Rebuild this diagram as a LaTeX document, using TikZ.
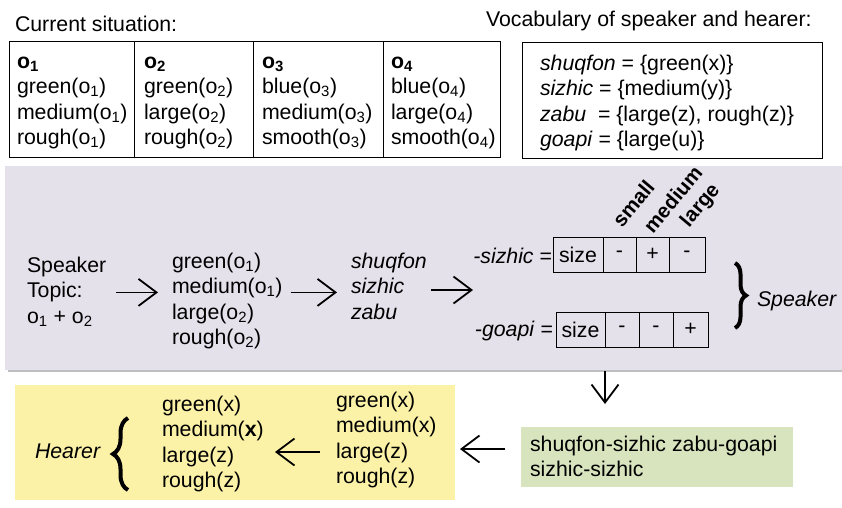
\documentclass[tikz,border=0pt]{standalone}
\usepackage{fontspec}
\setmainfont{Liberation Sans}
\usetikzlibrary{arrows.meta,decorations.pathreplacing}
\newcommand\lns[1]{\begin{tabular}[t]{@{}l@{}}#1\end{tabular}}
\newcommand\sbs[1]{\textsubscript{#1}}
\definecolor{bandc}{HTML}{E5E1EB}
\definecolor{yellowc}{HTML}{FCF2A7}
\definecolor{greenc}{HTML}{D8E4BE}
\begin{document}
\begin{tikzpicture}[x=1pt,y=-1pt,
  every node/.style={inner sep=0pt, outer sep=0pt, font=\fontsize{21.3}{25.5}\selectfont},
  txt/.style={anchor=base west},
  colbox/.style={draw, line width=0.9pt, anchor=north west, minimum height=116pt},
  cell/.style={draw, line width=1pt, minimum height=35pt},
  rot/.style={anchor=base west, rotate=50, font=\bfseries\fontsize{20.5}{22}\selectfont},
  arr/.style={line width=1.8pt, -{Straight Barb[length=18pt,width=27pt]}},
  curly/.style={line width=4pt, decorate, decoration={brace, amplitude=#1}}
]
\fill[white] (0,0) rectangle (842,507);
\useasboundingbox (0,0) rectangle (842,507);

% top headings
\node[txt] (cur) at (15,31) {Current situation:};
\node[txt] (voc) at (486,26) {Vocabulary of speaker and hearer:};

% situation table
\node[colbox, minimum width=125pt] (c1) at (9,41) {};
\node[colbox, minimum width=119pt] (c2) at (134,41) {};
\node[colbox, minimum width=130pt] (c3) at (253,41) {};
\node[colbox, minimum width=117pt] (c4) at (383,41) {};
\node[txt] (t1) at (17,68) {\lns{\textbf{o\sbs{1}}\\green(o\sbs{1})\\medium(o\sbs{1})\\rough(o\sbs{1})}};
\node[txt] (t2) at (144,68) {\lns{\textbf{o\sbs{2}}\\green(o\sbs{2})\\large(o\sbs{2})\\rough(o\sbs{2})}};
\node[txt] (t3) at (262,68) {\lns{\textbf{o\sbs{3}}\\blue(o\sbs{3})\\medium(o\sbs{3})\\smooth(o\sbs{3})}};
\node[txt] (t4) at (391,68) {\lns{\textbf{o\sbs{4}}\\blue(o\sbs{4})\\large(o\sbs{4})\\smooth(o\sbs{4})}};

% vocabulary box
\node[colbox, minimum width=300pt] (vb) at (522,42) {};
\node[txt] (vt) at (540,70) {\lns{\textit{shuqfon} = \{green(x)\}\\\textit{sizhic} = \{medium(y)\}\\\textit{zabu}\ \ = \{large(z), rough(z)\}\\\textit{goapi} = \{large(u)\}}};

% speaker band
\fill[black!25] (8,369) rectangle (842,372);
\node[fill=bandc, anchor=north west, minimum width=837pt, minimum height=204pt] (band) at (5,166) {};

\node[txt] (spk) at (27,272) {\lns{Speaker\\Topic:\\o\sbs{1} + o\sbs{2}}};
\node[txt] (props) at (172,268) {\lns{green(o\sbs{1})\\medium(o\sbs{1})\\large(o\sbs{2})\\rough(o\sbs{2})}};
\node[txt] (words) at (351,268) {\lns{\textit{shuqfon}\\\textit{sizhic}\\\textit{zabu}}};

\coordinate (mid) at (473,290);
\draw[arr] ([xshift=10pt]spk.east) -- ([xshift=-14pt]spk.east -| props.west);
\draw[arr] ([xshift=8pt]props.east |- spk.east) -- ([xshift=-14pt]words.west |- spk.east);
\draw[arr] ([xshift=4pt]words.east |- mid) -- (mid);

% sizhic table
\node[anchor=base east] (ls) at (552,263) {\textit{-sizhic} =};
\node[cell, minimum width=50pt] (s1) at (578,254.5) {size};
\node[cell, minimum width=33pt] (s2) at (619.5,254.5) {-};
\node[cell, minimum width=33pt] (s3) at (652.5,254.5) {+};
\node[cell, minimum width=36pt] (s4) at (687,254.5) {-};
\node[rot] (lsmall) at (622,228) {small};
\node[rot] (lmed) at (653,234) {medium};
\node[rot] (llarge) at (689,228) {large};

% goapi table
\node[anchor=base east] (lg) at (553,336) {\textit{-goapi} =};
\node[cell, minimum width=49pt] (g1) at (580.5,329.5) {size};
\node[cell, minimum width=34pt] (g2) at (622,329.5) {-};
\node[cell, minimum width=34pt] (g3) at (656,329.5) {-};
\node[cell, minimum width=35pt] (g4) at (690.5,329.5) {+};

\draw[curly=11pt] (735,263) -- (735,328);
\node[txt] (spkr) at (757,306) {\textit{Speaker}};

% utterance
\node[fill=greenc, anchor=north west, minimum width=272pt, minimum height=60pt] (utt) at (521,427) {};
\node[txt] (ut) at (530,451) {\lns{shuqfon-sizhic zabu-goapi\\sizhic-sizhic}};
\draw[arr] ([yshift=-1pt]band.south -| g1.east) -- ++(0,33);

% hearer
\node[fill=yellowc, anchor=north west, minimum width=440pt, minimum height=115pt] (hb) at (15,385) {};
\node[txt] (heard) at (336,407) {\lns{green(x)\\medium(x)\\large(z)\\rough(z)}};
\node[txt] (hl) at (162,411) {\lns{green(x)\\medium(\textbf{x})\\large(z)\\rough(z)}};
\node[txt] (hearer) at (35,458) {\textit{Hearer}};
\draw[curly=15pt] (128,490) -- (128,418);

\draw[arr] ([xshift=-16pt,yshift=8pt]utt.west) -- (460,449);
\draw[arr] ([xshift=-16pt,yshift=5pt]heard.west |- utt.west) -- (275,452);
\end{tikzpicture}
\end{document}
